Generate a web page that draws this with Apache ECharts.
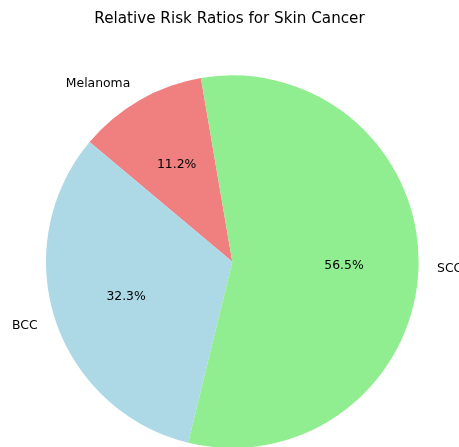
<!DOCTYPE html>
<html>
<head>
<meta charset="utf-8">
<script src="https://cdn.jsdelivr.net/npm/echarts@6/dist/echarts.min.js"></script>
<style>html,body{margin:0;padding:0;background:#fff;}#c{width:459px;height:447px;}</style>
</head>
<body>
<div id="c"></div>
<script>
const categories = ['Melanoma', 'BCC', 'SCC'];
const values = [11.2, 32.3, 56.5];
const colors = ['#F08080', '#ADD8E6', '#90EE90'];

const R = 186.3;
const C = [232.3, 261.7];
const START = 99.7;
const FONT = 'DejaVu Sans';

const chart = echarts.init(document.getElementById('c'), null, {renderer: 'canvas'});
const slices = categories.map((n, i) => ({name: n, value: values[i], itemStyle: {color: colors[i]}}));
chart.setOption({
  animation: false,
  title: {
    text: 'Relative Risk Ratios for Skin Cancer',
    left: 'center', top: 7,
    textStyle: {fontFamily: FONT, fontSize: 15.2, fontWeight: 'normal', color: '#000'}
  },
  series: [
    {
      type: 'pie', center: C, radius: [0, R],
      startAngle: START, clockwise: false,
      avoidLabelOverlap: false, silent: true,
      itemStyle: {borderWidth: 0},
      label: {
        show: true, position: 'outside', formatter: '{b}',
        fontFamily: FONT, fontSize: 12.4, color: '#000', distanceToLabelLine: 0
      },
      labelLine: {show: false, length: R * 0.1, length2: 0},
      emphasis: {disabled: true},
      data: slices
    },
    {
      // invisible helper pie: its inside labels land at 0.6 of the visible radius
      type: 'pie', center: C, radius: [0, R * 1.2 - 6],
      startAngle: START, clockwise: false,
      avoidLabelOverlap: false, silent: true, percentPrecision: 1,
      itemStyle: {color: 'rgba(0,0,0,0)', borderWidth: 0},
      label: {
        show: true, position: 'inside', formatter: '{d}%',
        fontFamily: FONT, fontSize: 12.4, color: '#000'
      },
      labelLine: {show: false},
      emphasis: {disabled: true},
      data: categories.map((n, i) => ({name: n, value: values[i]}))
    }
  ]
});
</script>
</body>
</html>
